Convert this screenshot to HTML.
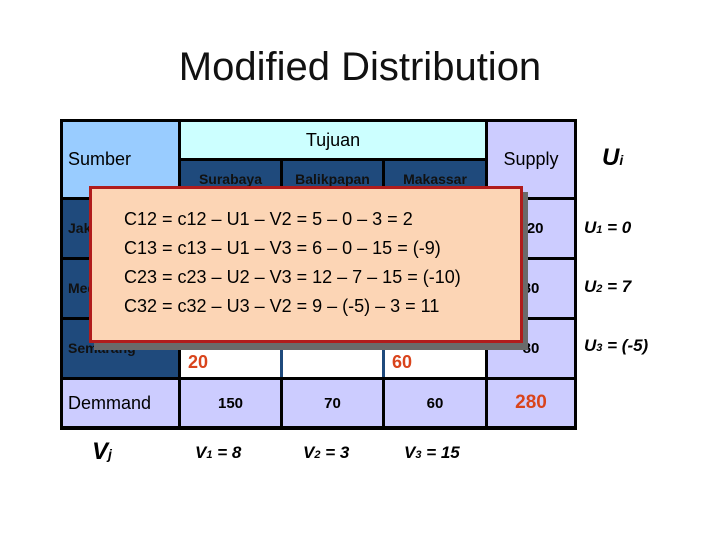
<!DOCTYPE html>
<html><head><style>
body{margin:0;width:720px;height:540px;background:#fff;position:relative;overflow:hidden;font-family:"Liberation Sans",Arial,sans-serif}
div{position:absolute;box-sizing:border-box}
.c{display:flex;align-items:center;justify-content:center}
.b{border:3px solid #000}
.i{font-style:italic;font-weight:bold;font-size:17px}
</style></head><body>
<div class="c" style="left:0;top:42px;width:720px;height:50px;font-size:40px;color:#111">Modified Distribution</div>

<!-- table bg -->
<div style="left:60px;top:119px;width:517px;height:311px;background:#000"></div>
<div style="left:63px;top:122px;width:115px;height:75px;background:#99ccff;font-size:18px;padding:27px 0 0 5px">Sumber</div>
<div class="c" style="left:181px;top:122px;width:304px;height:36px;background:#ccffff;font-size:18px">Tujuan</div>
<div class="c" style="left:181px;top:161px;width:99px;height:36px;background:#1f4a7c;font-size:14px;color:#111;font-weight:bold">Surabaya</div>
<div class="c" style="left:283px;top:161px;width:99px;height:36px;background:#1f4a7c;font-size:14px;color:#111;font-weight:bold">Balikpapan</div>
<div class="c" style="left:385px;top:161px;width:100px;height:36px;background:#1f4a7c;font-size:14px;color:#111;font-weight:bold">Makassar</div>
<div class="c" style="left:488px;top:122px;width:86px;height:75px;background:#ccccff;font-size:18px">Supply</div>
<!-- rows -->
<div style="left:63px;top:200px;width:115px;height:57px;background:#1f4a7c;font-size:14px;font-weight:bold;padding:20px 0 0 5px;color:#111">Jakarta</div>
<div style="left:63px;top:260px;width:115px;height:57px;background:#1f4a7c;font-size:14px;font-weight:bold;padding:20px 0 0 5px;color:#111">Medan</div>
<div style="left:63px;top:320px;width:115px;height:57px;background:#1f4a7c;font-size:14px;font-weight:bold;padding:20px 0 0 5px;color:#111">Semarang</div>
<div style="left:181px;top:200px;width:304px;height:177px;background:#1f4a7c"></div>
<div style="left:181px;top:320px;width:304px;height:30px;background:#8a8a8a"></div>
<div style="left:181px;top:350px;width:99px;height:27px;background:#fff;color:#d9441c;font-weight:bold;font-size:18px;padding:2px 0 0 7px">20</div>
<div style="left:283px;top:350px;width:99px;height:27px;background:#fff"></div>
<div style="left:385px;top:350px;width:100px;height:27px;background:#fff;color:#d9441c;font-weight:bold;font-size:18px;padding:2px 0 0 7px">60</div>
<div class="c" style="left:488px;top:200px;width:86px;height:57px;background:#ccccff;font-weight:bold;font-size:15px">120</div>
<div class="c" style="left:488px;top:260px;width:86px;height:57px;background:#ccccff;font-weight:bold;font-size:15px">80</div>
<div class="c" style="left:488px;top:320px;width:86px;height:57px;background:#ccccff;font-weight:bold;font-size:15px">80</div>
<!-- demand -->
<div style="left:63px;top:380px;width:115px;height:46px;background:#ccccff;font-size:18px;padding:13px 0 0 5px">Demmand</div>
<div class="c" style="left:181px;top:380px;width:99px;height:46px;background:#ccccff;font-weight:bold;font-size:15px">150</div>
<div class="c" style="left:283px;top:380px;width:99px;height:46px;background:#ccccff;font-weight:bold;font-size:15px">70</div>
<div class="c" style="left:385px;top:380px;width:100px;height:46px;background:#ccccff;font-weight:bold;font-size:15px">60</div>
<div class="c" style="left:488px;top:380px;width:86px;height:46px;background:#ccccff;font-weight:bold;font-size:19px;color:#d9441c">280</div>

<!-- popup -->
<div style="left:94px;top:192px;width:434px;height:158px;background:#6a6a6a"></div>
<div style="left:89px;top:186px;width:434px;height:157px;background:#fcd5b5;border:3px solid #b01c1c;font-size:18px;line-height:29px;padding:16px 0 0 32px;color:#000">
C12 = c12 – U1 – V2 = 5 – 0 – 3 = 2<br>C13 = c13 – U1 – V3 = 6 – 0 – 15 = (-9)<br>C23 = c23 – U2 – V3 = 12 – 7 – 15 = (-10)<br>C32 = c32 – U3 – V2 = 9 – (-5) – 3 = 11</div>

<!-- Ui Vj -->
<div class="i" style="left:602px;top:144px;font-size:24px">U<span style="font-size:14px">i</span></div>
<div class="i" style="left:584px;top:218px">U<span style="font-size:11px">1</span> = 0</div>
<div class="i" style="left:584px;top:277px">U<span style="font-size:11px">2</span> = 7</div>
<div class="i" style="left:584px;top:336px">U<span style="font-size:11px">3</span> = (-5)</div>
<div class="i" style="left:92px;top:438px;font-size:24px">V<span style="font-size:14px">j</span></div>
<div class="i" style="left:195px;top:443px">V<span style="font-size:11px">1</span> = 8</div>
<div class="i" style="left:303px;top:443px">V<span style="font-size:11px">2</span> = 3</div>
<div class="i" style="left:404px;top:443px">V<span style="font-size:11px">3</span> = 15</div>
</body></html>
